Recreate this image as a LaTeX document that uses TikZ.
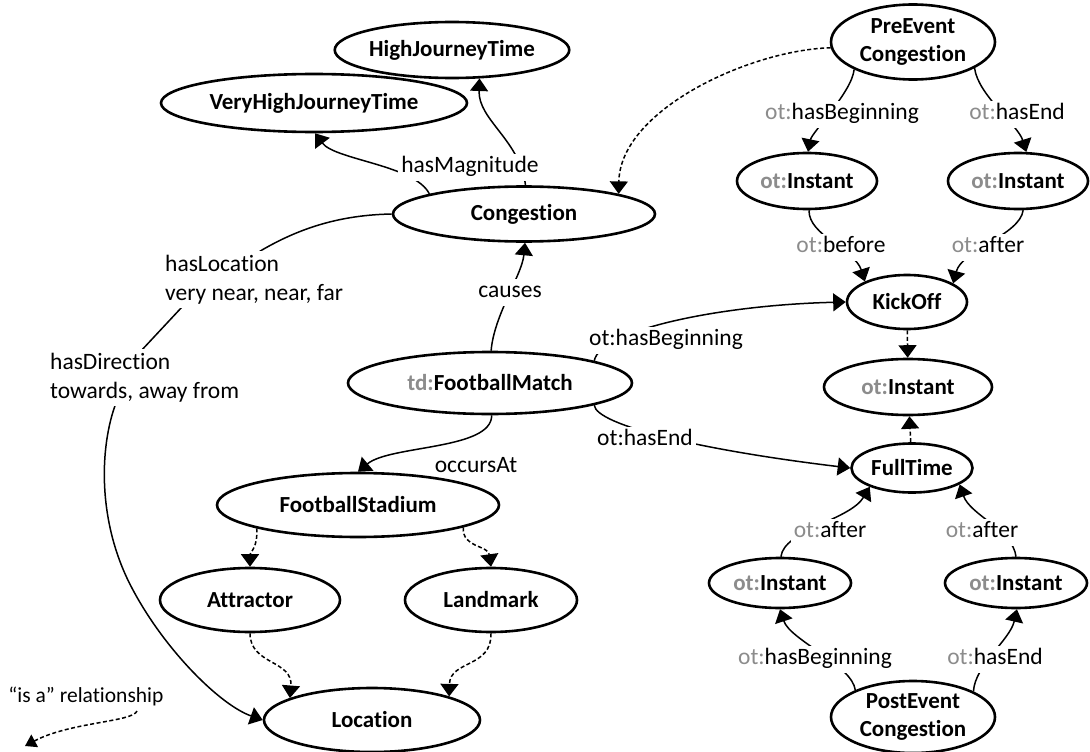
\documentclass[tikz,border=0pt]{standalone}
\usepackage{fontspec}
\setmainfont{Carlito}[Ligatures=NoCommon]
\usetikzlibrary{arrows.meta,shapes.geometric,backgrounds}
\definecolor{nsgray}{HTML}{8C8C8C}
\newcommand{\nsp}[1]{\textcolor{nsgray}{#1}}

\begin{document}
\begin{tikzpicture}[x=1pt,y=-1pt,
  concept/.style={ellipse, draw, line width=2.6pt, fill=white, inner sep=0pt,
    font=\fontsize{23}{28}\selectfont\bfseries, align=center},
  rel/.style={fill=white, inner sep=3pt, font=\fontsize{23.5}{28.5}\selectfont,
    text height=16pt, text depth=5pt, yshift=-2pt},
  relblock/.style={fill=white, inner sep=4pt, font=\fontsize{23.5}{28.5}\selectfont,
    align=left},
  link/.style={line width=1.5pt, -{Triangle[width=18pt,length=12.5pt]}},
  isa/.style={link, dash pattern=on 4pt off 2.5pt},
]
\useasboundingbox (0,0) rectangle (1090,752);

% ---------- concepts ----------
\node[concept, minimum width=216pt, minimum height=56pt] (hjt)   at (452,50)  {HighJourneyTime};
\node[concept, minimum width=306pt, minimum height=58pt] (vhjt)  at (314,103) {VeryHighJourneyTime};
\node[concept, minimum width=262pt, minimum height=55pt] (cong)  at (524,214) {Congestion};
\node[concept, minimum width=164pt, minimum height=75pt] (pre)   at (913,42)  {PreEvent\\Congestion};
\node[concept, minimum width=140pt, minimum height=56pt] (instA) at (807,181) {\nsp{ot:}Instant};
\node[concept, minimum width=140pt, minimum height=56pt] (instB) at (1018,181) {\nsp{ot:}Instant};
\node[concept, minimum width=120pt, minimum height=54pt] (kick)  at (907,302) {KickOff};
\node[concept, minimum width=168pt, minimum height=56pt] (instM) at (908,387) {\nsp{ot:}Instant};
\node[concept, minimum width=121pt, minimum height=49pt] (ft)    at (912,468) {FullTime};
\node[concept, minimum width=284pt, minimum height=62pt] (match) at (490,383) {\nsp{td:}FootballMatch};
\node[concept, minimum width=282pt, minimum height=64pt] (stad)  at (358,505) {FootballStadium};
\node[concept, minimum width=180pt, minimum height=64pt] (attr)  at (250,600) {Attractor};
\node[concept, minimum width=172pt, minimum height=64pt] (land)  at (491,600) {Landmark};
\node[concept, minimum width=216pt, minimum height=64pt] (loc)   at (372,720) {Location};
\node[concept, minimum width=142pt, minimum height=50pt] (instC) at (780,583) {\nsp{ot:}Instant};
\node[concept, minimum width=142pt, minimum height=50pt] (instD) at (1016,583) {\nsp{ot:}Instant};
\node[concept, minimum width=164pt, minimum height=72pt] (post)  at (913,717) {PostEvent\\Congestion};

% ---------- relation labels ----------
\node[rel] (lMag)    at (470,165)  {hasMagnitude};
\node[rel] (lPreB)   at (842,112)  {\nsp{ot:}hasBeginning};
\node[rel] (lPreE)   at (1017,112) {\nsp{ot:}hasEnd};
\node[rel] (lBefore) at (841,245)  {\nsp{ot:}before};
\node[rel] (lAfterK) at (988,245)  {\nsp{ot:}after};
\node[rel] (lCauses) at (510,290)  {causes};
\node[rel] (lMatchB) at (666,338)  {ot:hasBeginning};
\node[rel] (lMatchE) at (645,438)  {ot:hasEnd};
\node[rel, fill=none] (lOccurs) at (476,465) {occursAt};
\node[rel] (lAfterC) at (830,530)  {\nsp{ot:}after};
\node[rel] (lAfterD) at (982,530)  {\nsp{ot:}after};
\node[rel] (lPostB)  at (815,657)  {\nsp{ot:}hasBeginning};
\node[rel] (lPostE)  at (995,657)  {\nsp{ot:}hasEnd};
\node[relblock, anchor=north west] (lLoc) at (161,251) {hasLocation\\very near, near, far};
\node[relblock, anchor=north west] (lDir) at (46,349)  {hasDirection\\towards, away from};

% legend
\node[font=\fontsize{21.5}{25}\selectfont, inner sep=0pt] (lIsa) at (86,696) {“is a” relationship};
\coordinate (isaFrom) at (137,711);
\coordinate (isaTo) at (25,746);

% ---------- connectors ----------
\begin{scope}[on background layer]
  % magnitude
  \draw[link] (cong.168) .. controls (415,165) and (335,160) .. (vhjt.-88);
  \draw[link] (cong.87) .. controls (520,140) and (478,120) .. (hjt.-46);
  % pre-event congestion
  \draw[isa]  (pre.184) .. controls (750,50) and (620,110) .. (cong.12);
  \draw[link] (pre.205) .. controls (852,92) and (812,132) .. (instA.88);
  \draw[link] (pre.-23) .. controls (978,95) and (1018,125) .. (instB.74);
  \draw[link] (instA.-86) .. controls (808,235) and (855,250) .. (kick.154);
  \draw[link] (instB.-80) .. controls (1020,235) and (962,250) .. (kick.22);
  % kick-off / full time are instants
  \draw[isa] (kick) -- (instM);
  \draw[isa] (ft) -- (instM);
  % football match
  \draw[link] (match.88) .. controls (494,315) and (522,275) .. (cong.-88);
  \draw[link] (match.12) .. controls (600,330) and (720,305) .. (kick.west);
  \draw[link] (match.-12) .. controls (596,425) and (700,450) .. (ft.west);
  \draw[link] (match.-87) .. controls (492,450) and (390,445) .. (stad.north);
  % stadium hierarchy
  \draw[isa] (stad.193) .. controls (258,548) and (250,552) .. (attr.north);
  \draw[isa] (stad.-12) .. controls (462,548) and (488,545) .. (land.north);
  \draw[isa] (attr.south) .. controls (250,665) and (293,660) .. (loc.165);
  \draw[isa] (land.south) .. controls (492,668) and (450,660) .. (loc.17);
  % location of congestion
  \draw[link] (cong.west) .. controls (340,215) and (300,228) .. (262,250)
     -- (196,292) -- (140,352) -- (118,398)
     .. controls (100,440) and (95,520) .. (133,590)
     .. controls (165,650) and (220,705) .. (loc.west);
  % post-event congestion
  \draw[link] (instC.88) .. controls (784,530) and (850,520) .. (ft.-156);
  \draw[link] (instD.90) .. controls (1013,530) and (970,515) .. (ft.-19);
  \draw[link] (post.155) .. controls (852,665) and (790,640) .. (instC.-90);
  \draw[link] (post.23) .. controls (975,665) and (1010,640) .. (instD.-88);
  % legend
  \draw[isa, -{Triangle[width=14pt,length=11pt]}] (isaFrom) .. controls (133,722) and (70,722) .. (isaTo);
\end{scope}
\end{tikzpicture}
\end{document}
